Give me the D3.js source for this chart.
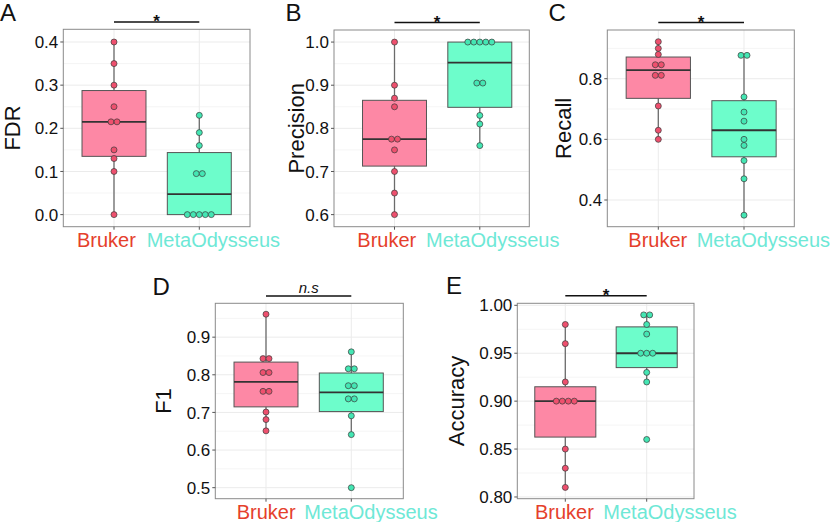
<!DOCTYPE html>
<html><head><meta charset="utf-8">
<script src="https://cdn.jsdelivr.net/npm/d3@7"></script>
<style>body{margin:0;background:#fff}svg{display:block;font-family:"Liberation Sans",Arial,Helvetica,sans-serif}</style>
</head><body>
<svg id="c" width="830" height="522"></svg>
<script>
const groups = ["Bruker", "MetaOdysseus"];
const groupLabelColors = ["#e5402b", "#6ee8d6"];
const boxFills = ["#fd88a5", "#6dfdcb"];
const dotFills = ["#ee506e", "#44e6b3"];

// Values
const fdrBruker = [0.40, 0.35, 0.30, 0.25, 0.215, 0.215, 0.15, 0.13, 0.10, 0.00];
const fdrMeta = [0.23, 0.19, 0.16, 0.095, 0.095, 0, 0, 0, 0, 0];
const precisionBruker = [1.00, 0.90, 0.87, 0.85, 0.775, 0.775, 0.75, 0.70, 0.65, 0.60];
const precisionMeta = [1, 1, 1, 1, 1, 0.905, 0.905, 0.83, 0.81, 0.76];
const recallBruker = [0.922, 0.90, 0.88, 0.846, 0.846, 0.811, 0.811, 0.71, 0.63, 0.60];
const recallMeta = [0.877, 0.877, 0.74, 0.69, 0.66, 0.60, 0.58, 0.53, 0.47, 0.35];
const f1Bruker = [0.961, 0.843, 0.843, 0.806, 0.806, 0.756, 0.756, 0.701, 0.681, 0.651];
const f1Meta = [0.861, 0.816, 0.816, 0.771, 0.771, 0.736, 0.736, 0.691, 0.641, 0.50];
const accBruker = [0.98, 0.96, 0.92, 0.90, 0.90, 0.90, 0.90, 0.85, 0.83, 0.81];
const accMeta = [0.99, 0.99, 0.98, 0.97, 0.95, 0.95, 0.95, 0.93, 0.92, 0.86];

const ticksA = [0, 0.1, 0.2, 0.3, 0.4];
const ticksB = [0.6, 0.7, 0.8, 0.9, 1.0];
const ticksC = [0.4, 0.6, 0.8];
const ticksD = [0.5, 0.6, 0.7, 0.8, 0.9];
const ticksE = [0.80, 0.85, 0.90, 0.95, 1.00];

const panels = [
  {letter:"A", title:"FDR", data:[fdrBruker, fdrMeta], ticks:ticksA, fmt:".1f", dom:[-0.028, 0.4294],
   rect:[63.3, 29.3, 250, 226.7], cx:[114, 199.3], sig:"*", letterPos:[0, 21], titleX:19.5, sigY:22, labX:[77, 146.7]},
  {letter:"B", title:"Precision", data:[precisionBruker, precisionMeta], ticks:ticksB, fmt:".1f", dom:[0.572, 1.028],
   rect:[334, 30, 529.3, 226.7], cx:[394.5, 479.8], sig:"*", letterPos:[285.5, 21], titleX:303.5, sigY:22.5, labX:[357.3, 426]},
  {letter:"C", title:"Recall", data:[recallBruker, recallMeta], ticks:ticksC, fmt:".1f", dom:[0.312, 0.9606],
   rect:[607.3, 30, 794.3, 226.7], cx:[658.3, 744], sig:"*", letterPos:[548.5, 21], titleX:571, sigY:22.5, labX:[628.3, 696.7]},
  {letter:"D", title:"F1", data:[f1Bruker, f1Meta], ticks:ticksD, fmt:".1f", dom:[0.4707, 0.990],
   rect:[215.3, 303.3, 403.3, 498.7], cx:[266, 351.3], sig:"n.s", letterPos:[152.5, 295], titleX:171, sigY:296, labX:[236.7, 304.3]},
  {letter:"E", title:"Accuracy", data:[accBruker, accMeta], ticks:ticksE, fmt:".2f", dom:[0.7982, 1.0021],
   rect:[517.3, 303.3, 694, 498.7], cx:[565.3, 646.7], sig:"*", letterPos:[446, 294], titleX:463.5, sigY:295.7, labX:[535, 603.3]}
];

const svg = d3.select("#c");

function stats(vals) {
  const s = vals.slice().sort(d3.ascending);
  const q1 = d3.quantile(s, 0.25), med = d3.quantile(s, 0.5), q3 = d3.quantile(s, 0.75);
  const iqr = q3 - q1;
  const lo = d3.min(s.filter(v => v >= q1 - 1.5 * iqr));
  const hi = d3.max(s.filter(v => v <= q3 + 1.5 * iqr));
  return {q1, med, q3, lo, hi};
}

panels.forEach(p => {
  const [x0, y0, x1, y1] = p.rect;
  const g = svg.append("g");
  const y = d3.scaleLinear().domain(p.dom).range([y1, y0]);
  const x = d3.scalePoint().domain(groups).range(p.cx);
  const unit = p.cx[1] - p.cx[0];
  const bw = unit * 0.75;

  // grid: minor
  const minor = [];
  const step = p.ticks[1] - p.ticks[0];
  for (let i = 0; i < p.ticks.length + 1; i++) {
    const v = p.ticks[0] - step / 2 + i * step;
    if (v > p.dom[0] && v < p.dom[1]) minor.push(v);
  }
  g.selectAll(".mn").data(minor).join("line")
    .attr("x1", x0).attr("x2", x1).attr("y1", d => y(d)).attr("y2", d => y(d))
    .attr("stroke", "#f3f3f3").attr("stroke-width", 0.8);
  g.selectAll(".mj").data(p.ticks).join("line")
    .attr("x1", x0).attr("x2", x1).attr("y1", d => y(d)).attr("y2", d => y(d))
    .attr("stroke", "#ebebeb").attr("stroke-width", 1);
  g.selectAll(".vg").data(groups).join("line")
    .attr("x1", d => x(d)).attr("x2", d => x(d)).attr("y1", y0).attr("y2", y1)
    .attr("stroke", "#ebebeb").attr("stroke-width", 1);

  // boxes
  groups.forEach((grp, gi) => {
    const st = stats(p.data[gi]);
    const cx = x(grp);
    g.append("line").attr("x1", cx).attr("x2", cx).attr("y1", y(st.q3)).attr("y2", y(st.hi))
      .attr("stroke", "#6b6b6b").attr("stroke-width", 1.3);
    g.append("line").attr("x1", cx).attr("x2", cx).attr("y1", y(st.q1)).attr("y2", y(st.lo))
      .attr("stroke", "#6b6b6b").attr("stroke-width", 1.3);
    g.append("rect").attr("x", cx - bw / 2).attr("width", bw)
      .attr("y", y(st.q3)).attr("height", y(st.q1) - y(st.q3))
      .attr("fill", boxFills[gi]).attr("stroke", "#555").attr("stroke-width", 1);
    g.append("line").attr("x1", cx - bw / 2).attr("x2", cx + bw / 2).attr("y1", y(st.med)).attr("y2", y(st.med))
      .attr("stroke", "#333").attr("stroke-width", 1.8);

    const counts = d3.rollup(p.data[gi], v => v.length, v => v);
    const pts = [];
    counts.forEach((n, v) => { for (let k = 0; k < n; k++) pts.push({v, off: (k - (n - 1) / 2) * 6}); });
    g.selectAll(null).data(pts).join("circle")
      .attr("cx", d => cx + d.off).attr("cy", d => y(d.v)).attr("r", 3)
      .attr("fill", dotFills[gi]).attr("stroke", "#3a3a3a").attr("stroke-width", 0.7);
  });

  // panel border
  g.append("rect").attr("x", x0).attr("y", y0).attr("width", x1 - x0).attr("height", y1 - y0)
    .attr("fill", "none").attr("stroke", "#8a8a8a").attr("stroke-width", 1);

  // y ticks
  g.selectAll(".yt").data(p.ticks).join("line")
    .attr("x1", x0 - 3).attr("x2", x0).attr("y1", d => y(d)).attr("y2", d => y(d))
    .attr("stroke", "#555").attr("stroke-width", 1);
  g.selectAll(".yl").data(p.ticks).join("text")
    .attr("x", x0 - 5).attr("y", d => y(d)).attr("dy", "0.36em")
    .attr("text-anchor", "end").attr("font-size", 17).attr("fill", "#111")
    .text(d => d3.format(p.fmt)(d));

  // x ticks + labels
  g.selectAll(".xt").data(groups).join("line")
    .attr("x1", d => x(d)).attr("x2", d => x(d)).attr("y1", y1).attr("y2", y1 + 3)
    .attr("stroke", "#555").attr("stroke-width", 1);
  g.selectAll(".xl").data(groups).join("text")
    .attr("x", (d, i) => p.labX[i]).attr("y", y1 + 20).attr("text-anchor", "start")
    .attr("font-size", 20).attr("fill", (d, i) => groupLabelColors[i]).text(d => d);

  // y title
  g.append("text").attr("transform", `translate(${p.titleX},${(y0 + y1) / 2}) rotate(-90)`)
    .attr("text-anchor", "middle").attr("font-size", 22).attr("fill", "#111").text(p.title);

  // panel letter
  g.append("text").attr("x", p.letterPos[0]).attr("y", p.letterPos[1])
    .attr("font-size", 24).attr("fill", "#111").text(p.letter);

  // significance
  g.append("line").attr("x1", p.cx[0]).attr("x2", p.cx[1]).attr("y1", p.sigY).attr("y2", p.sigY)
    .attr("stroke", "#111").attr("stroke-width", 1.5);
  const mid = (p.cx[0] + p.cx[1]) / 2;
  if (p.sig === "*") {
    g.append("text").attr("x", mid).attr("y", p.sigY + 5).attr("text-anchor", "middle")
      .attr("font-size", 17).attr("font-weight", "bold").attr("fill", "#111").text("*");
  } else {
    g.append("text").attr("x", mid).attr("y", p.sigY - 3).attr("text-anchor", "middle")
      .attr("font-size", 15).attr("font-style", "italic").attr("fill", "#111").text(p.sig);
  }
});
</script>
</body></html>
